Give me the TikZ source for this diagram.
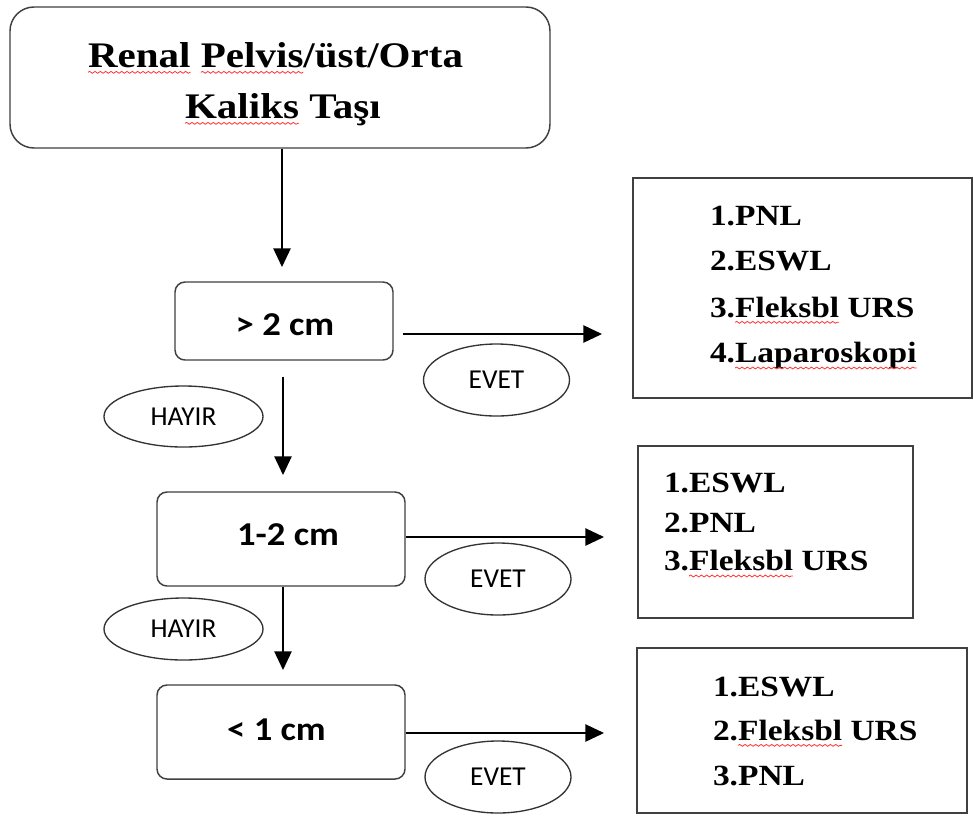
\documentclass[tikz,border=0pt]{standalone}
\usepackage{fontspec}
\setmainfont{Liberation Serif}[FakeStretch=1.14]
\newfontfamily\carlb{Carlito}[FakeStretch=1.1]
\newfontfamily\carlr{Carlito}
\usetikzlibrary{arrows.meta,fit,shapes.geometric,decorations.pathmorphing}

\begin{document}
\begin{tikzpicture}[x=0.75pt,y=-0.75pt,
  rbox/.style={draw=black!75, line width=1.1pt, rounded corners=#1, inner sep=0pt},
  rbox/.default=7.5pt,
  sqbox/.style={draw=black!75, line width=1.4pt, inner sep=0pt},
  oval/.style={draw=black!80, line width=1pt, ellipse, inner sep=0pt,
    font=\carlr\fontsize{20.5}{24}\selectfont},
  arr/.style={draw=black, line width=1.1pt, -{Triangle[length=14pt,width=13pt]}},
  ttl/.style={font=\bfseries\fontsize{27}{32}\selectfont, inner sep=0pt, outer sep=0pt, anchor=base west},
  lst/.style={font=\bfseries\fontsize{22}{26}\selectfont, inner sep=0pt, outer sep=0pt, anchor=base west},
  sizetxt/.style={font=\carlb\bfseries\fontsize{25}{30}\selectfont, inner sep=0pt, anchor=base},
  wav/.style={draw=red!80!white, line width=0.6pt, decorate,
    decoration={snake, amplitude=0.7pt, segment length=4pt}}
]
\useasboundingbox[fill=white] (0,0) rectangle (974,819);

% boxes
\node[rbox=18pt, fit={(10,7) (550,148)}] (top) {};
\node[rbox, fit={(175,282) (393,360)}] (b1) {};
\node[rbox, fit={(157,492) (405,586)}] (b2) {};
\node[rbox, fit={(157,685) (405,779)}] (b3) {};
\node[sqbox, fit={(633,178) (972,398)}] (r1) {};
\node[sqbox, fit={(638,446) (913,618)}] (r2) {};
\node[sqbox, fit={(637,648) (967,813)}] (r3) {};

% title
\node[ttl] (t1a) at (88,67) {Renal};
\node[ttl] (t1c) at ([xshift=7.7pt]t1a.base east) {Pelvis};
\node[ttl] (t1d) at (t1c.base east) {/üst/Orta};
\node[ttl] (t2a) at (185,118) {Kaliks};
\node[ttl] (t2b) at (t2a.base east) {\ Taşı};
\draw[wav] ([yshift=-4pt]t1a.base west) -- ([yshift=-4pt]t1a.base east);
\draw[wav] ([yshift=-4pt]t1c.base west) -- ([yshift=-4pt]t1c.base east);
\draw[wav] ([yshift=-4pt]t2a.base west) -- ([yshift=-4pt]t2a.base east);

% size labels
\node[sizetxt] (c1) at (285,335) {> 2 cm};
\node[sizetxt] (c2) at (288,545) {1-2 cm};
\node[sizetxt] (c3) at (276.5,740) {< 1 cm};

% ovals
\node[oval, minimum width=119.25pt, minimum height=45.75pt] (hay1) at (183.5,416.5) {HAYIR};
\node[oval, minimum width=119.25pt, minimum height=46.5pt] (hay2) at (183.5,629) {HAYIR};
\node[oval, minimum width=109.5pt, minimum height=54pt] (ev1) at (496.5,380) {EVET};
\node[oval, minimum width=109.5pt, minimum height=54pt] (ev2) at (498,579) {EVET};
\node[oval, minimum width=109.5pt, minimum height=54pt] (ev3) at (498,777) {EVET};

% lists box 1
\node[lst] (p1a) at (710,225) {1.PNL};
\node[lst] (p1b) at (710,270) {2.ESWL};
\node[lst] (p1c) at (710,317) {3.};
\node[lst] (p1cw) at (p1c.base east) {Fleksbl};
\node[lst] (p1cr) at (p1cw.base east) {\ URS};
\node[lst] (p1d) at (710,362) {4.};
\node[lst] (p1dw) at (p1d.base east) {Laparoskopi};
\draw[wav] ([yshift=-4pt]p1cw.base west) -- ([yshift=-4pt]p1cw.base east);
\draw[wav] ([yshift=-4.5pt]p1dw.base west) -- ([yshift=-4.5pt]p1dw.base east);

% lists box 2
\node[lst] (p2a) at (664,492) {1.ESWL};
\node[lst] (p2b) at (664,532) {2.PNL};
\node[lst] (p2c) at (664,570) {3.};
\node[lst] (p2cw) at (p2c.base east) {Fleksbl};
\node[lst] (p2cr) at (p2cw.base east) {\ URS};
\draw[wav] ([yshift=-4.5pt]p2cw.base west) -- ([yshift=-4.5pt]p2cw.base east);

% lists box 3
\node[lst] (p3a) at (713,696) {1.ESWL};
\node[lst] (p3b) at (713,740) {2.};
\node[lst] (p3bw) at (p3b.base east) {Fleksbl};
\node[lst] (p3br) at (p3bw.base east) {\ URS};
\node[lst] (p3c) at (713,785) {3.PNL};
\draw[wav] ([yshift=-4pt]p3bw.base west) -- ([yshift=-4pt]p3bw.base east);

% arrows
\coordinate (va1) at (282,267);
\coordinate (va2) at (283,475);
\coordinate (va3) at (283,670);
\coordinate (ha1) at (602,334);
\coordinate (ha2) at (604,537);
\coordinate (ha3) at (604,733);
\draw[arr] (top.south -| va1) -- (va1);
\draw[arr] ([yshift=-12pt]b1.south -| va2) -- (va2);
\draw[arr] (b2.south -| va3) -- (va3);
\draw[arr] ([xshift=6.75pt]b1.east |- ha1) -- (ha1);
\draw[arr] (b2.east |- ha2) -- (ha2);
\draw[arr] (b3.east |- ha3) -- (ha3);
\end{tikzpicture}
\end{document}
